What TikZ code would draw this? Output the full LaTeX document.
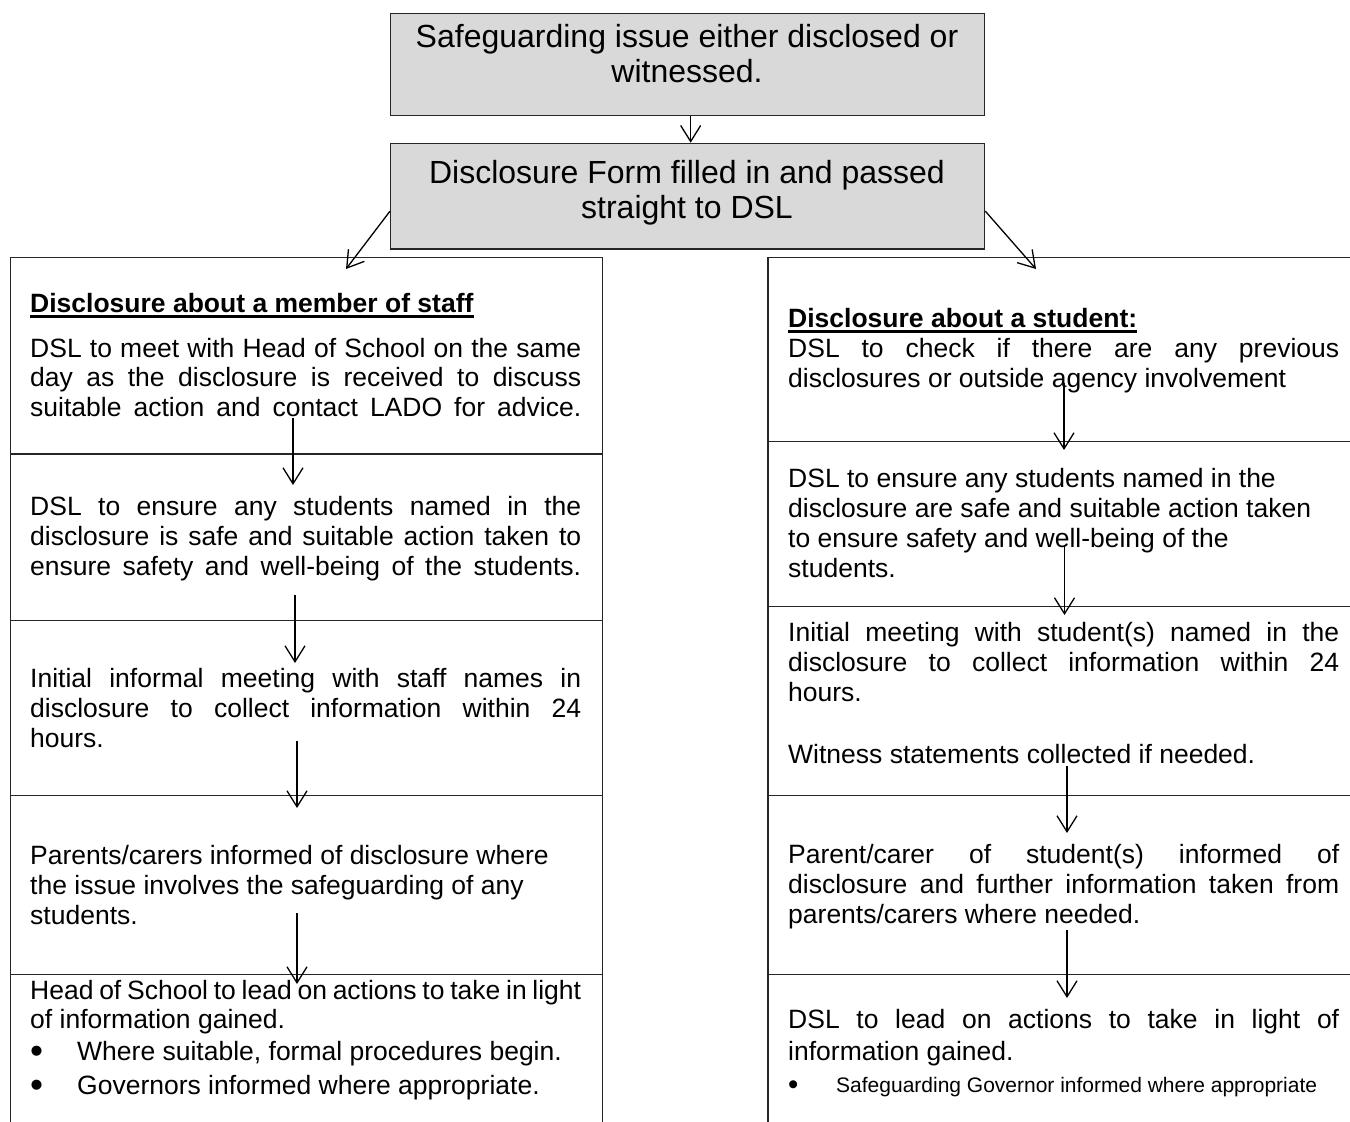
\documentclass[tikz,border=0pt]{standalone}
\usepackage{fontspec}
\setmainfont{Liberation Sans}
\usetikzlibrary{arrows.meta}
\definecolor{boxgrey}{RGB}{217,217,217}
\newlength\colw
\setlength\colw{551pt}
% rigid interword spaces at the font's own width
\newcommand\ns{\spaceskip=\fontdimen2\font\relax\xspaceskip=\fontdimen2\font\relax}
% a line of a justified paragraph: interword spaces spread to the full column
\newcommand\jl[1]{{\spaceskip=0pt\xspaceskip=0pt\makebox[\colw][s]{#1}}}
% bullet item: enlarged dot in a box of the given width, then the text
\newcommand\bul[3]{\makebox[#1][l]{\raisebox{#2}{\scalebox{1.4}{\textbullet}}}#3}
\begin{document}
\begin{tikzpicture}[x=1pt,y=-1pt,
  frame/.style={draw=black!85, line width=1.3pt},
  greybox/.style={frame, fill=boxgrey, anchor=north west, inner sep=0, minimum width=594pt},
  cell/.style={frame, anchor=north west, inner sep=0, minimum width=592.5pt},
  body/.style={anchor=base west, inner sep=0, text width=\colw, align=left,
    font=\fontsize{26.5}{30}\selectfont},
  head/.style={anchor=base west, inner sep=0, font=\fontsize{26.5}{30}\selectfont\bfseries},
  title/.style={anchor=base, inner sep=0, text width=594pt, align=center,
    font=\fontsize{32}{35}\selectfont},
  uline/.style={line width=2.2pt},
  arr/.style={line width=1.3pt, -{Straight Barb[length=16pt,width=20pt]}}
]
\useasboundingbox (0,0) rectangle (1350,1122);
\fill[white] (0,0) rectangle (1350,1122);

% top two steps
\node[greybox, minimum height=102.3pt] (top1) at (390,12.7) {};
\node[greybox, minimum height=105.6pt] (top2) at (390,142.7) {};
\node[title] (tt1) at (687,47) {\ns Safeguarding issue either disclosed or\\ witnessed.};
\node[title] (tt2) at (687,183) {\ns Disclosure Form filled in and passed\\ straight to DSL};

% left column cells
\node[cell, minimum height=196.3pt] (L1) at (9.5,257) {};
\node[cell, minimum height=166.7pt] (L2) at (9.5,453.3) {};
\node[cell, minimum height=174.5pt] (L3) at (9.5,620) {};
\node[cell, minimum height=179.5pt] (L4) at (9.5,794.5) {};
\node[cell, minimum height=170pt] (L5) at (9.5,974) {};

% right column cells
\node[cell, minimum height=184pt] (R1) at (767.3,257) {};
\node[cell, minimum height=165pt] (R2) at (767.3,441) {};
\node[cell, minimum height=189pt] (R3) at (767.3,606) {};
\node[cell, minimum height=179pt] (R4) at (767.3,795) {};
\node[cell, minimum height=170pt] (R5) at (767.3,974) {};

% left column text
\node[head] (hL) at (30,312) {\ns Disclosure about a member of staff};
\draw[uline] ([yshift=-4.5pt]hL.base west) -- ([yshift=-4.5pt]hL.base east);
\node[body, font=\fontsize{26.5}{29.5}\selectfont] (tL1) at (30,357)
  {\ns\jl{DSL to meet with Head of School on the same}\\
   \jl{day as the disclosure is received to discuss}\\
   \jl{suitable action and contact LADO for advice.}};
\node[body] (tL2) at (30,515)
  {\ns\jl{DSL to ensure any students named in the}\\
   \jl{disclosure is safe and suitable action taken to}\\
   \jl{ensure safety and well-being of the students.}};
\node[body] (tL3) at (30,687)
  {\ns\jl{Initial informal meeting with staff names in}\\
   \jl{disclosure to collect information within 24}\\
   hours.};
\node[body] (tL4) at (30,864)
  {\ns Parents/carers informed of disclosure where\\
   the issue involves the safeguarding of any\\
   students.};
\node[body] (tL5) at (30,999)
  {\ns\jl{Head of School to lead on actions to take in light}\\[-1pt]
   of information gained.\\[2pt]
   \bul{47pt}{-3pt}{Where suitable, formal procedures begin.}\\[4pt]
   \bul{47pt}{-3pt}{Governors informed where appropriate.}};

% right column text
\node[head] (hR) at (788,327) {\ns Disclosure about a student:};
\draw[uline] ([yshift=-4.5pt]hR.base west) -- ([yshift=-4.5pt]hR.base east);
\node[body] (tR1) at (788,357)
  {\ns\jl{DSL to check if there are any previous}\\
   disclosures or outside agency involvement};
\node[body] (tR2) at (788,487)
  {\ns DSL to ensure any students named in the\\
   disclosure are safe and suitable action taken\\
   to ensure safety and well-being of the\\
   students.};
\node[body] (tR3) at (788,641)
  {\ns\jl{Initial meeting with student(s) named in the}\\
   \jl{disclosure to collect information within 24}\\
   hours.\\[32pt]
   Witness statements collected if needed.};
\node[body] (tR4) at (788,863)
  {\ns\jl{Parent/carer of student(s) informed of}\\
   \jl{disclosure and further information taken from}\\
   parents/carers where needed.};
\node[body] (tR5) at (788,1028)
  {\ns\jl{DSL to lead on actions to take in light of}\\[2pt]
   information gained.\\[2pt]
   {\fontsize{21}{24}\selectfont\ns\bul{48pt}{-2pt}{Safeguarding Governor informed where appropriate}}};

% arrow ends inside the column cells
\coordinate (dL) at (346,269);
\coordinate (dR) at (1036,269);
\coordinate (a1s) at (293,418);   \coordinate (a1e) at (293,485);
\coordinate (a2s) at (295,595);   \coordinate (a2e) at (295,663);
\coordinate (a3s) at (297,741);   \coordinate (a3e) at (297,808);
\coordinate (a4s) at (297,913);   \coordinate (a4e) at (297,984);
\coordinate (b1s) at (1064,383);  \coordinate (b1e) at (1064,450);
\coordinate (b2s) at (1064.5,545);\coordinate (b2e) at (1064.5,615);
\coordinate (b3s) at (1067,766);  \coordinate (b3e) at (1067,833);
\coordinate (b4s) at (1067,930);  \coordinate (b4e) at (1067,998);

% connectors
\draw[arr] ([xshift=3pt]top1.south) -- ([xshift=3pt]top2.north);
\draw[arr] ([yshift=-15pt]top2.west) -- (dL);
\draw[arr] ([yshift=-15pt]top2.east) -- (dR);
\draw[arr] (a1s) -- (a1e);
\draw[arr] (a2s) -- (a2e);
\draw[arr] (a3s) -- (a3e);
\draw[arr] (a4s) -- (a4e);
\draw[arr] (b1s) -- (b1e);
\draw[arr] (b2s) -- (b2e);
\draw[arr] (b3s) -- (b3e);
\draw[arr] (b4s) -- (b4e);
\end{tikzpicture}
\end{document}
